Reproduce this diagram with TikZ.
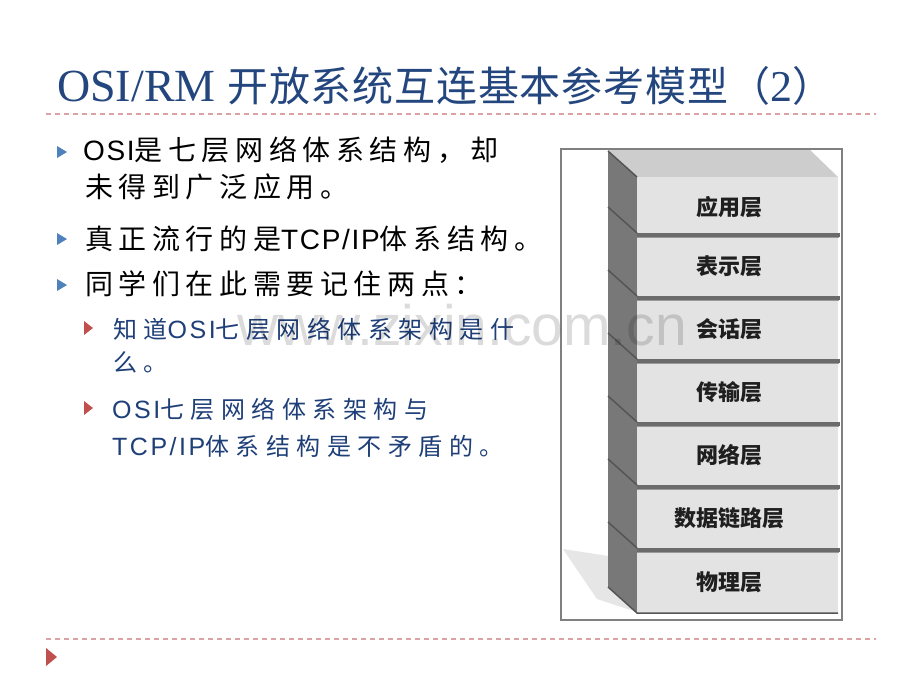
\documentclass[tikz,border=0pt]{standalone}
\usepackage{fontspec}
\setmainfont{Liberation Serif}
\newfontfamily\ttlfont{Liberation Serif}
\newfontfamily\ttlcjk[LetterSpace=2]{Noto Sans CJK SC}
\newfontfamily\bodylat[LetterSpace=6]{Liberation Sans}
\newfontfamily\bodycjk[LetterSpace=20]{Noto Sans CJK SC}
\newfontfamily\sublat[LetterSpace=10]{Liberation Sans}
\newfontfamily\subcjk[LetterSpace=27]{Noto Sans CJK SC}
\newfontfamily\lblfont{Noto Sans CJK SC}
\newfontfamily\wmfont{Liberation Sans}
\definecolor{ttlblue}{HTML}{24467E}
\definecolor{subblue}{HTML}{1F3F78}
\definecolor{bulblue}{HTML}{4F81BD}
\definecolor{bulred}{HTML}{C0504D}
\definecolor{dashpink}{HTML}{DBA3A3}
\definecolor{framegray}{HTML}{808080}
\definecolor{frontgray}{HTML}{E3E3E3}
\definecolor{topgray}{HTML}{CDCDCD}
\definecolor{leftgray}{HTML}{787878}
\definecolor{edgegray}{HTML}{555555}
\definecolor{sepgray}{HTML}{6B6B6B}
\definecolor{shadowgray}{HTML}{E6E6E6}
\begin{document}
\begin{tikzpicture}[x=1pt,y=-1pt,
  maintxt/.style={anchor=base west, inner sep=0, text=black, font=\fontsize{28}{30}\selectfont},
  subtxt/.style={anchor=base west, inner sep=0, text=subblue, font=\fontsize{24}{26}\selectfont},
  lbl/.style={inner sep=0, text=black!88, font=\lblfont\bfseries\fontsize{22}{23}\selectfont},
  sepline/.style={dashpink, line width=2, dash pattern=on 5pt off 4pt}]
\fill[white] (0,0) rectangle (920,690);
% title
\node[anchor=base west, inner sep=0, text=ttlblue] (title) at (57,102)
  {\fontsize{46}{48}\selectfont{\ttlfont OSI/RM }\fontsize{41}{48}\selectfont{\ttlcjk 开放系统互连基本参考模型（}{\ttlfont\fontsize{44}{48}\selectfont 2}{\ttlcjk ）}};
\draw[sepline] (46,114) -- (876,114);
\draw[sepline] (46,639) -- (876,639);
\fill[bulred] (46,648) -- (57,657) -- (46,666) -- cycle;
% main bullets
\fill[bulblue] (57,146) -- (67,152) -- (57,158) -- cycle;
\fill[bulblue] (57,233) -- (67,239) -- (57,245) -- cycle;
\fill[bulblue] (57,279) -- (67,285) -- (57,291) -- cycle;
\node[maintxt] (m1) at (83,160) {{\bodylat OSI}{\bodycjk 是七层网络体系结构，却}};
\node[maintxt] (m2) at (85,197) {{\bodycjk 未得到广泛应用。}};
\node[maintxt] (m3) at (85,249) {{\bodycjk 真正流行的是}{\bodylat TCP/IP}{\bodycjk 体系结构。}};
\node[maintxt] (m4) at (85,294) {{\bodycjk 同学们在此需要记住两点：}};
% sub bullets
\fill[bulred] (84,321) -- (93,328) -- (84,335) -- cycle;
\fill[bulred] (84,401) -- (93,408) -- (84,415) -- cycle;
\node[subtxt] (s1) at (113,338) {{\subcjk 知道}{\sublat\fontsize{25}{26}\selectfont OSI}{\subcjk 七层网络体系架构是什}};
\node[subtxt] (s2) at (113,371) {{\subcjk 么。}};
\node[subtxt] (s3) at (112,418) {{\sublat\fontsize{25}{26}\selectfont OSI}{\subcjk 七层网络体系架构与}};
\node[subtxt] (s4) at (112,455) {{\sublat\fontsize{25}{26}\selectfont TCP/IP}{\subcjk 体系结构是不矛盾的。}};
% picture frame
\fill[white] (561,149) rectangle (842,620);
\fill[shadowgray] (563,549) -- (608,556) -- (608,587) -- (637,612) -- (597,599) -- cycle;
% top face
\fill[topgray] (608,150) -- (810,150) -- (838,177) -- (637,177) -- cycle;
\foreach \i/\t/\b/\lab in {1/177/233/应用层, 2/233/296/表示层, 3/296/359/会话层, 4/359/422/传输层, 5/422/485/网络层, 6/485/548/数据链路层, 7/548/613/物理层}{
  \fill[leftgray] (608,\t-26) -- (637,\t) -- (637,\b) -- (608,\b-26) -- cycle;
  \draw[edgegray, line width=1.5] (608,\t-26) -- (637,\t);
  \fill[frontgray] (637,\t) rectangle (838,\b);
  \ifnum\i>1
    \fill[sepgray] (637,\t) rectangle (840,\t+3.5);
    \fill[black!40] (637,\t+3.5) rectangle (839,\t+5);
  \fi
  \node[lbl] (L\i) at (729,{(\t+\b)/2+2}) {\lab};
}
\draw[edgegray, line width=1.5] (608,587) -- (637,613) -- (838,613);
\draw[framegray, line width=2] (561,149) rectangle (842,620);
% watermark
\node[anchor=base west, inner sep=0, text=black, text opacity=0.14, font=\wmfont\fontsize{57}{57}\selectfont] (wm) at (237,345) {www.zixin.com.cn};
\end{tikzpicture}
\end{document}
